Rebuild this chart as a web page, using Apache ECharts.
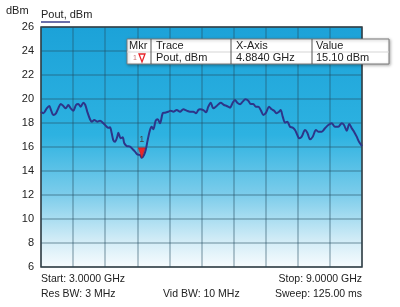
<!DOCTYPE html>
<html><head><meta charset="utf-8">
<script src="https://cdn.jsdelivr.net/npm/echarts@6/dist/echarts.min.js"></script>
<style>html,body{margin:0;padding:0;background:#fff}#c{width:400px;height:307px}</style>
</head><body><div id="c"></div>
<script>
const freqGHz = [3.000,3.043,3.107,3.155,3.187,3.230,3.280,3.323,3.368,3.417,3.462,3.510,3.555,3.604,3.654,3.697,3.742,3.791,3.828,3.865,3.916,3.948,3.996,4.052,4.103,4.165,4.215,4.258,4.290,4.322,4.351,4.383,4.426,4.445,4.490,4.527,4.557,4.602,4.664,4.714,4.757,4.800,4.850,4.884,4.925,4.957,4.994,5.037,5.069,5.099,5.144,5.181,5.224,5.275,5.318,5.380,5.424,5.473,5.537,5.598,5.660,5.723,5.785,5.847,5.897,5.940,5.972,6.034,6.084,6.127,6.172,6.221,6.284,6.359,6.421,6.471,6.533,6.583,6.626,6.669,6.720,6.770,6.819,6.875,6.920,6.968,7.013,7.062,7.112,7.155,7.206,7.262,7.312,7.355,7.406,7.449,7.480,7.518,7.561,7.604,7.654,7.705,7.748,7.791,7.828,7.873,7.935,7.978,8.028,8.079,8.140,8.183,8.247,8.308,8.370,8.434,8.495,8.557,8.621,8.664,8.714,8.763,8.808,8.851,8.901,8.944,9.000];
const poutDbm = [18.94,18.81,19.22,19.42,19.08,18.67,18.81,19.22,19.58,19.42,19.22,19.50,19.22,19.03,19.50,19.58,19.36,19.69,19.50,18.94,18.31,18.11,18.25,18.11,18.19,17.98,17.75,17.61,17.64,17.14,16.58,16.44,16.86,17.19,16.72,16.81,16.31,16.08,16.03,15.81,15.61,15.39,15.33,15.10,15.33,15.75,16.58,17.42,17.69,17.48,18.19,18.31,17.98,18.81,18.86,18.94,19.03,18.94,19.08,18.94,19.14,19.03,18.94,18.94,18.81,19.08,19.14,19.08,18.89,19.36,19.69,19.22,19.42,19.69,19.50,19.42,19.28,19.69,19.92,19.69,19.56,19.78,19.97,19.86,19.58,19.58,19.36,19.36,19.03,18.67,18.86,19.36,19.14,19.03,18.81,18.94,19.08,18.53,18.03,18.11,17.69,17.61,17.42,17.00,16.72,16.86,17.42,17.19,16.64,16.86,17.42,17.28,17.28,17.56,17.83,17.98,17.69,17.69,17.98,17.83,17.36,17.92,17.56,17.28,16.86,16.44,16.08];
const yTicks = [6,8,10,12,14,16,18,20,22,24,26];
const xStart = 3.0, xStop = 9.0;
const marker = {freq: 4.884, value: 15.10, label: "1"};
const tableHeader = ["Mkr","Trace","X-Axis","Value"];
const tableRow = ["Pout, dBm","4.8840 GHz","15.10 dBm"];
const footer = {start:"Start: 3.0000 GHz", stop:"Stop: 9.0000 GHz", res:"Res BW: 3 MHz", vid:"Vid BW: 10 MHz", sweep:"Sweep: 125.00 ms"};

const FONT = '"Liberation Sans", Arial, sans-serif';
const chart = echarts.init(document.getElementById('c'), null, {renderer:'canvas'});
const data = freqGHz.map((f,i)=>[f, poutDbm[i]]);
const txt = (x,y,t,opt={}) => ({type:'text', x, y, z:100, style:Object.assign({text:t, font:'11px '+FONT, fill:'#222', textVerticalAlign:'middle'}, opt)});

chart.setOption({
  animation:false,
  backgroundColor:'#fff',
  grid:{left:41, right:38, top:27, bottom:40, show:true, borderColor:'#3a3a3a', borderWidth:1.5,
    backgroundColor:{type:'linear',x:0,y:0,x2:0,y2:1,colorStops:[
      {offset:0,color:'#1ca2d8'},{offset:0.45,color:'#2db2e1'},{offset:0.7,color:'#7dcdeb'},{offset:0.88,color:'#cfebf6'},{offset:1,color:'#f8fcfe'}]}},
  xAxis:{type:'value', min:xStart, max:xStop, interval:0.6,
    axisLine:{show:false}, axisTick:{show:false}, axisLabel:{show:false},
    splitLine:{show:true, lineStyle:{color:'rgba(35,75,95,0.4)', width:1.5}}},
  yAxis:{type:'value', min:yTicks[0], max:yTicks[yTicks.length-1], interval:2,
    axisLine:{show:false}, axisTick:{show:false},
    axisLabel:{color:'#222', fontSize:11, fontFamily:FONT, margin:7},
    splitLine:{show:true, lineStyle:{color:'rgba(35,75,95,0.4)', width:1.5}}},
  series:[{type:'line', data, showSymbol:false, smooth:0.3,
    lineStyle:{color:'#2d3589', width:2},
    markPoint:{data:[{coord:[marker.freq, marker.value], symbol:'path://M0,0 L10,0 L5,14 Z', symbolKeepAspect:false,
      symbolSize:[7,10], symbolOffset:[0,-5], itemStyle:{color:'#e8262b', borderColor:'#b01818', borderWidth:0.5},
      label:{show:true, formatter:marker.label, position:'top', distance:3, fontSize:9, color:'#444', fontFamily:FONT}}]}
  }],
  graphic:[
    txt(6,11,'dBm'),
    txt(41,15,'Pout, dBm'),
    {type:'line', z:100, shape:{x1:41,y1:22,x2:70,y2:22}, style:{stroke:'#3a3f8c', lineWidth:1.5}},
    {type:'rect', z:90, shape:{x:127,y:39,width:262,height:25}, style:{fill:'#fff', stroke:'#7a7a7a', lineWidth:1, shadowBlur:3, shadowColor:'rgba(0,0,0,0.3)', shadowOffsetX:1, shadowOffsetY:1}},
    {type:'line', z:95, shape:{x1:127,y1:52,x2:389,y2:52}, style:{stroke:'#d5d5d5', lineWidth:1}},
    {type:'line', z:95, shape:{x1:151,y1:39,x2:151,y2:64}, style:{stroke:'#555', lineWidth:1}},
    {type:'line', z:95, shape:{x1:231,y1:39,x2:231,y2:64}, style:{stroke:'#555', lineWidth:1}},
    {type:'line', z:95, shape:{x1:312,y1:39,x2:312,y2:64}, style:{stroke:'#555', lineWidth:1}},
    txt(129,46,tableHeader[0]), txt(156,46,tableHeader[1]), txt(236,46,tableHeader[2]), txt(316,46,tableHeader[3]),
    txt(133,58,marker.label,{font:'7px '+FONT, fill:'#c87070'}),
    {type:'polygon', z:100, shape:{points:[[139,54],[145,54],[142,62]]}, style:{fill:'#fff', stroke:'#e8262b', lineWidth:1.3}},
    txt(156,58,tableRow[0]), txt(236,58,tableRow[1]), txt(316,58,tableRow[2]),
    txt(41,279,footer.start,{font:'10.5px '+FONT}), txt(41,294,footer.res,{font:'10.5px '+FONT}), txt(163,294,footer.vid,{font:'10.5px '+FONT}),
    txt(362,279,footer.stop,{textAlign:'right', font:'10.5px '+FONT}), txt(362,294,footer.sweep,{textAlign:'right', font:'10.5px '+FONT})
  ]
});
</script></body></html>
